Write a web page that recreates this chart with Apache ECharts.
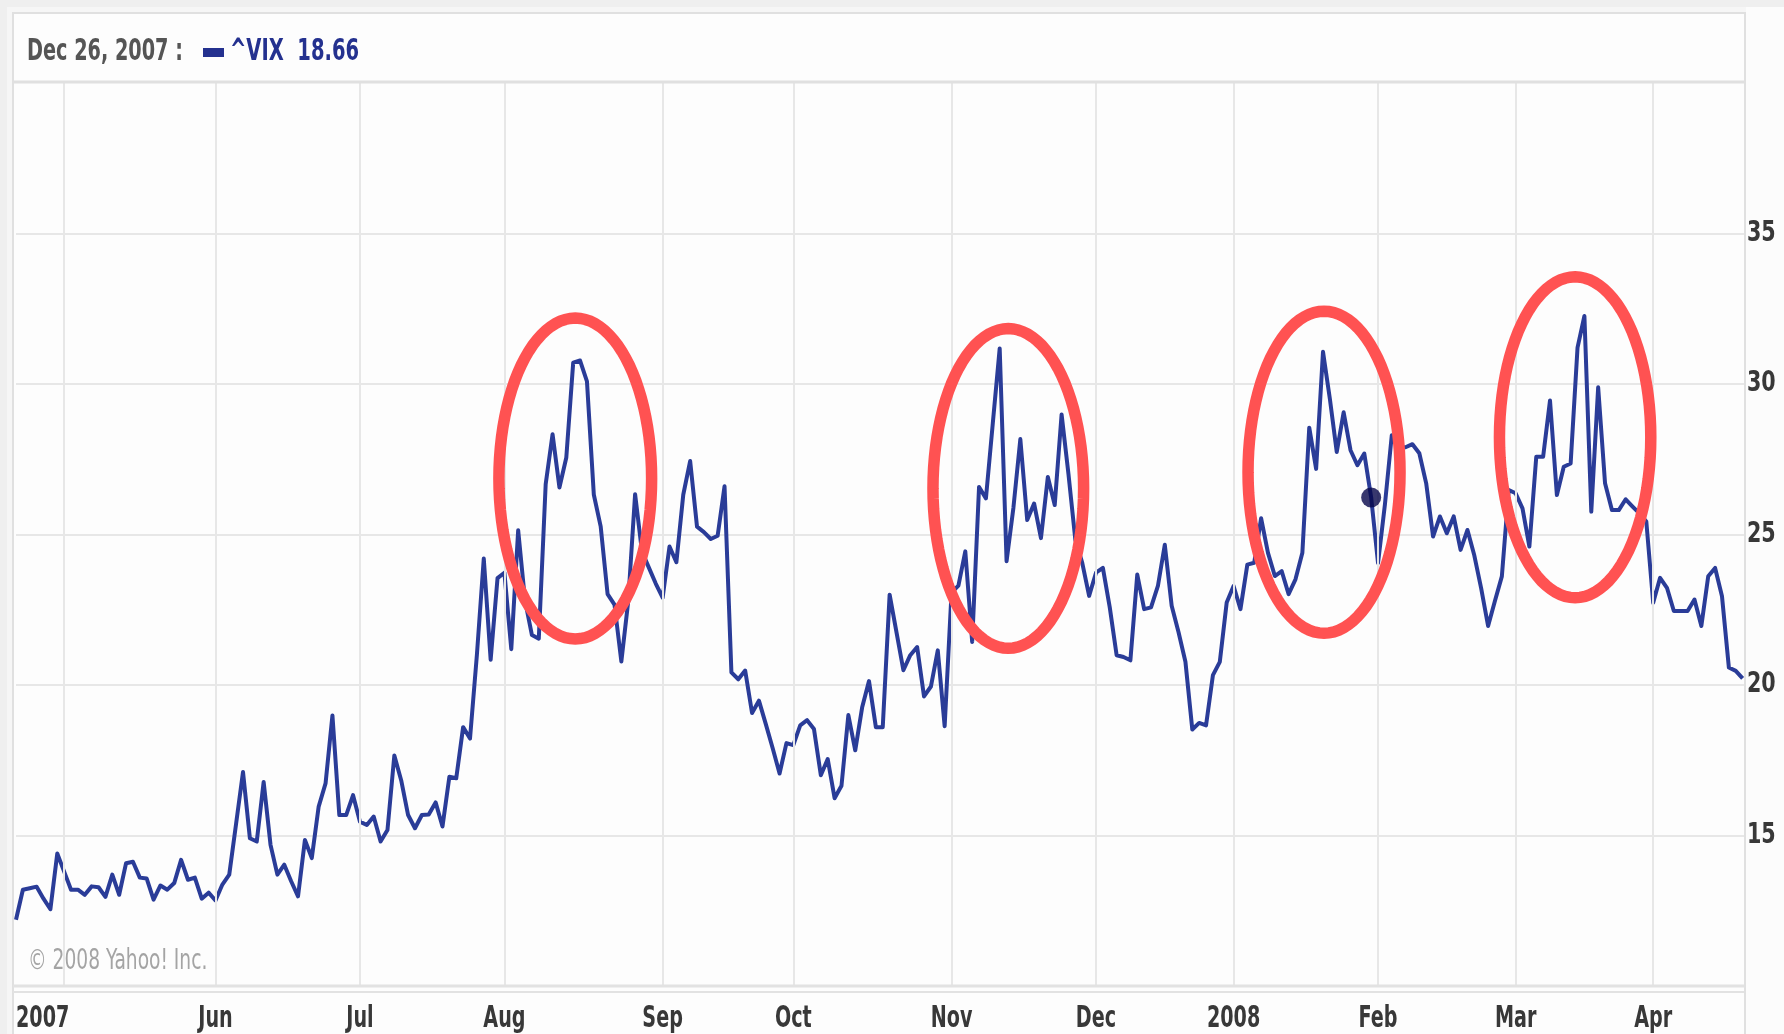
<!DOCTYPE html>
<html><head><meta charset="utf-8">
<script src="https://cdn.jsdelivr.net/npm/echarts@6/dist/echarts.min.js"></script>
<style>html,body{margin:0;padding:0;background:#efefef;}#c{width:1784px;height:1034px;}</style>
</head><body><div id="c"></div>
<script>
// ---- data (index 0 = Apr 20, 2007; one value per trading day) ----
const vix = [
 12.2,13.2,13.25,13.3,12.9,12.55,14.4,13.8,13.2,13.2,
 13.03,13.31,13.28,12.96,13.7,13.03,14.08,14.13,13.6,13.57,
 12.87,13.34,13.2,13.42,14.19,13.53,13.6,12.9,13.1,12.84,
 13.37,13.7,15.4,17.11,14.91,14.8,16.78,14.69,13.7,14.03,
 13.48,12.98,14.85,14.25,15.96,16.73,18.99,15.68,15.68,16.34,
 15.46,15.35,15.63,14.8,15.18,17.66,16.83,15.68,15.24,15.68,
 15.7,16.1,15.3,16.95,16.9,18.6,18.22,21.0,24.2,20.84,
 23.55,23.73,21.19,25.14,22.8,21.66,21.54,26.67,28.33,26.56,
 27.56,30.71,30.78,30.09,26.32,25.26,23.02,22.67,20.78,22.78,
 26.34,24.43,23.9,23.37,22.9,24.6,24.08,26.32,27.44,25.26,
 25.08,24.85,24.96,26.6,20.42,20.19,20.48,19.07,19.48,18.7,
 17.9,17.06,18.07,18.0,18.66,18.83,18.54,17.0,17.54,16.24,
 16.65,19.0,17.83,19.25,20.13,18.6,18.6,23.0,21.75,20.49,
 20.99,21.26,19.62,19.95,21.15,18.63,23.07,23.3,24.44,21.43,
 26.58,26.2,28.7,31.18,24.11,25.9,28.17,25.48,26.03,24.88,
 26.91,25.98,28.99,27.0,24.82,24.06,22.96,23.73,23.89,22.58,
 20.99,20.93,20.82,23.67,22.52,22.58,23.29,24.66,22.63,21.75,
 20.77,18.52,18.74,18.66,20.33,20.77,22.74,23.29,22.52,24.0,
 24.06,25.54,24.39,23.62,23.78,23.02,23.51,24.39,28.55,27.18,
 31.07,29.5,27.74,29.06,27.8,27.3,27.69,26.23,24.05,26.0,
 28.3,27.9,27.9,28.0,27.7,26.7,24.93,25.6,25.04,25.6,
 24.49,25.15,24.3,23.2,21.96,22.8,23.61,26.48,26.37,25.87,
 24.6,27.58,27.58,29.45,26.31,27.25,27.36,31.21,32.26,25.76,
 29.89,26.7,25.81,25.81,26.17,25.93,25.7,25.43,22.73,23.56,
 23.23,22.46,22.46,22.46,22.84,21.96,23.61,23.89,22.95,20.58,
 20.47,20.22
];
const monthGridIndex = [7, 29, 50, 71, 94, 113, 136, 157, 177, 198, 218, 238];
const xLabelIndex = [0, 29, 50, 71, 94, 113, 136, 157, 177, 198, 218, 238];
const xLabelText = ['2007','Jun','Jul','Aug','Sep','Oct','Nov','Dec','2008','Feb','Mar','Apr'];
const yLabelValues = [15, 20, 25, 30, 35];
const yMin = 10, yMax = 40, yStep = 5;
const seriesName = '^VIX';
const headerDate = 'Dec 26, 2007';
const headerIndex = 173;
const markerIndex = 197;
// circled spikes: [centre day index, centre value, half-width (days), half-height (value)]
const highlights = [
 [81.3, 26.86, 11.1, 5.33],
 [144.25, 26.53, 10.95, 5.31],
 [190.15, 27.07, 11.05, 5.35],
 [226.65, 28.23, 11.0, 5.33]
];
const copyright = '\u00A9 2008 Yahoo! Inc.';

// ---- chart ----
const FONT = '"DejaVu Sans Condensed","DejaVu Sans",sans-serif';
const LINE = '#2a3c98';
const GRID = '#e7e7e7';
const LABEL = '#383838';
const chart = echarts.init(document.getElementById('c'), null, {renderer: 'canvas'});

const lineData = vix.map((v, i) => [i, v]);

const frame = [
  {type: 'rect', z: -5, silent: true, shape: {x: 7, y: 7, width: 1777, height: 1027}, style: {fill: '#f6f6f6'}},
  {type: 'rect', z: -4, silent: true, shape: {x: 13, y: 13, width: 1732, height: 1030}, style: {fill: '#fdfdfd', stroke: '#e0e0e0', lineWidth: 2}},
  {type: 'rect', z: -4, silent: true, shape: {x: 1746, y: 7, width: 38, height: 1027}, style: {fill: '#fcfcfc'}},
  {type: 'line', z: 50, silent: true, shape: {x1: 13, y1: 82, x2: 1745, y2: 82}, style: {stroke: '#e0e0e0', lineWidth: 3}},
  {type: 'line', z: 50, silent: true, shape: {x1: 13, y1: 986, x2: 1745, y2: 986}, style: {stroke: '#e2e2e2', lineWidth: 3}},
  {type: 'line', z: 50, silent: true, shape: {x1: 13, y1: 992, x2: 1745, y2: 992}, style: {stroke: '#e2e2e2', lineWidth: 2}},
  {type: 'line', z: 50, silent: true, shape: {x1: 1745, y1: 13, x2: 1745, y2: 1034}, style: {stroke: '#e0e0e0', lineWidth: 2}},
  {type: 'text', z: 50, silent: true, x: 27, y: 52, scaleX: 0.69, style: {text: headerDate + ' :', fontFamily: FONT, fontWeight: 'bold', fontSize: 31, fill: '#555555', verticalAlign: 'middle'}},
  {type: 'rect', z: 50, silent: true, shape: {x: 203, y: 48, width: 21, height: 9}, style: {fill: '#24318f'}},
  {type: 'text', z: 50, silent: true, x: 230, y: 52, scaleX: 0.7, style: {text: seriesName + '  ' + vix[headerIndex].toFixed(2), fontFamily: FONT, fontWeight: 'bold', fontSize: 31, fill: '#24318f', verticalAlign: 'middle'}},
  {type: 'text', z: 50, silent: true, x: 28, y: 962, scaleX: 0.74, style: {text: copyright, fontFamily: FONT, fontSize: 28, fill: '#a4a4a4', verticalAlign: 'middle'}}
];

chart.setOption({
  animation: false,
  backgroundColor: '#efefef',
  grid: {left: 16, right: 40, top: 83, bottom: 48, containLabel: false},
  xAxis: {
    type: 'value', min: 0, max: 251.2,
    axisLine: {show: false}, axisTick: {show: false}, splitLine: {show: false},
    axisLabel: {show: false}
  },
  yAxis: {
    type: 'value', min: yMin, max: yMax, interval: yStep, position: 'right',
    axisLine: {show: false}, axisTick: {show: false},
    axisLabel: {show: false},
    splitLine: {show: true, showMinLine: false, showMaxLine: false, lineStyle: {color: GRID, width: 2}}
  },
  graphic: frame,
  series: [
    {
      type: 'line', data: lineData, z: 1, silent: true, showSymbol: false,
      lineStyle: {opacity: 0},
      markLine: {
        silent: true, symbol: 'none', label: {show: false},
        lineStyle: {color: GRID, width: 2, type: 'solid'},
        data: monthGridIndex.map(i => ({xAxis: i}))
      }
    },
    {
      type: 'line', data: lineData, z: 3, showSymbol: false, silent: true,
      lineStyle: {color: LINE, width: 4, join: 'round'}
    },
    {
      type: 'custom', z: 5, silent: true, data: highlights,
      renderItem: function (params, api) {
        const c = api.coord([api.value(0), api.value(1)]);
        const s = api.size([api.value(2), api.value(3)]);
        const pts = [];
        for (let k = 0; k < 96; k++) {
          const t = k / 96 * Math.PI * 2;
          pts.push([c[0] + s[0] * Math.cos(t), c[1] + s[1] * Math.sin(t)]);
        }
        return {type: 'polygon', shape: {points: pts}, style: {fill: 'none', stroke: '#ff5252', lineWidth: 11.5}};
      }
    },
    {
      type: 'scatter', z: 6, silent: true, data: [[markerIndex, vix[markerIndex]]],
      symbolSize: 20, itemStyle: {color: '#06064a'}
    }
  ]
});

// tick labels, placed through the axes' own scales
const tickTexts = [];
xLabelIndex.forEach((idx, k) => {
  tickTexts.push({
    type: 'text', z: 50, silent: true,
    x: chart.convertToPixel({xAxisIndex: 0}, idx), y: 1019, scaleX: 0.71,
    style: {text: xLabelText[k], fontFamily: FONT, fontWeight: 'bold', fontSize: 30, fill: LABEL,
            align: k === 0 ? 'left' : 'center', verticalAlign: 'middle'}
  });
});
yLabelValues.forEach(v => {
  tickTexts.push({
    type: 'text', z: 50, silent: true,
    x: 1747, y: chart.convertToPixel({yAxisIndex: 0}, v), scaleX: 0.82,
    style: {text: String(v), fontFamily: FONT, fontWeight: 'bold', fontSize: 28, fill: LABEL,
            align: 'left', verticalAlign: 'middle'}
  });
});
chart.setOption({graphic: frame.concat(tickTexts)});
</script></body></html>
